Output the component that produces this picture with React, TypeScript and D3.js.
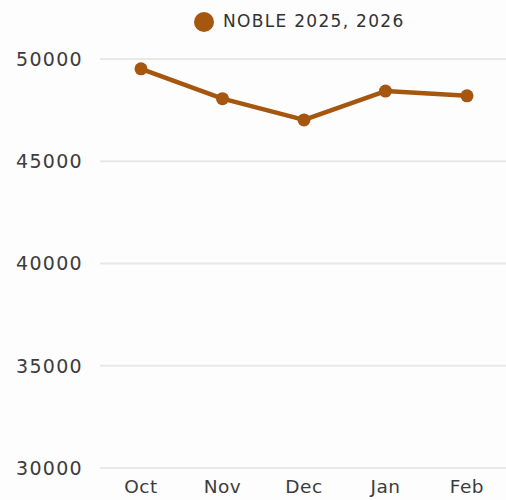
import React from "react";
import * as d3 from "d3";

const months = ["Oct", "Nov", "Dec", "Jan", "Feb"];
const values = [49520, 48060, 47020, 48430, 48200];
const yTicks = [30000, 35000, 40000, 45000, 50000];
const seriesName = "NOBLE 2025, 2026";

const W = 506;
const H = 500;
const COLOR = "#A5560F";
const FONT = "'DejaVu Sans', sans-serif";

export default function App() {
  const x = d3.scalePoint<string>().domain(months).range([141, 467]);
  const y = d3.scaleLinear().domain([30000, 50000]).range([468, 59]);
  const line = d3
    .line<number>()
    .x((_, i) => x(months[i]) as number)
    .y((d) => y(d));

  return (
    <svg
      width={W}
      height={H}
      style={{ position: "absolute", left: 0, top: 0, background: "#fdfdfd" }}
      fontFamily={FONT}
    >
      {yTicks.map((t) => (
        <g key={t}>
          <line x1={100} x2={W} y1={y(t)} y2={y(t)} stroke="#e8e8e8" strokeWidth={2} />
          <text
            x={83}
            y={y(t)}
            dy="0.36em"
            textAnchor="end"
            fontSize={19}
            letterSpacing={1.3}
            fill="#3c3c3c"
          >
            {t}
          </text>
        </g>
      ))}
      {months.map((m) => (
        <text
          key={m}
          x={x(m) as number}
          y={493}
          textAnchor="middle"
          fontSize={18.5}
          letterSpacing={0.5}
          fill="#3c3c3c"
        >
          {m}
        </text>
      ))}
      <path d={line(values) || ""} fill="none" stroke={COLOR} strokeWidth={4.5} strokeLinejoin="round" />
      {values.map((v, i) => (
        <circle key={i} cx={x(months[i]) as number} cy={y(v)} r={6.5} fill={COLOR} />
      ))}
      <circle cx={204} cy={22} r={10} fill={COLOR} />
      <text x={223} y={21} dy="0.36em" fontSize={17} letterSpacing={1.3} fill="#333">
        {seriesName}
      </text>
    </svg>
  );
}
